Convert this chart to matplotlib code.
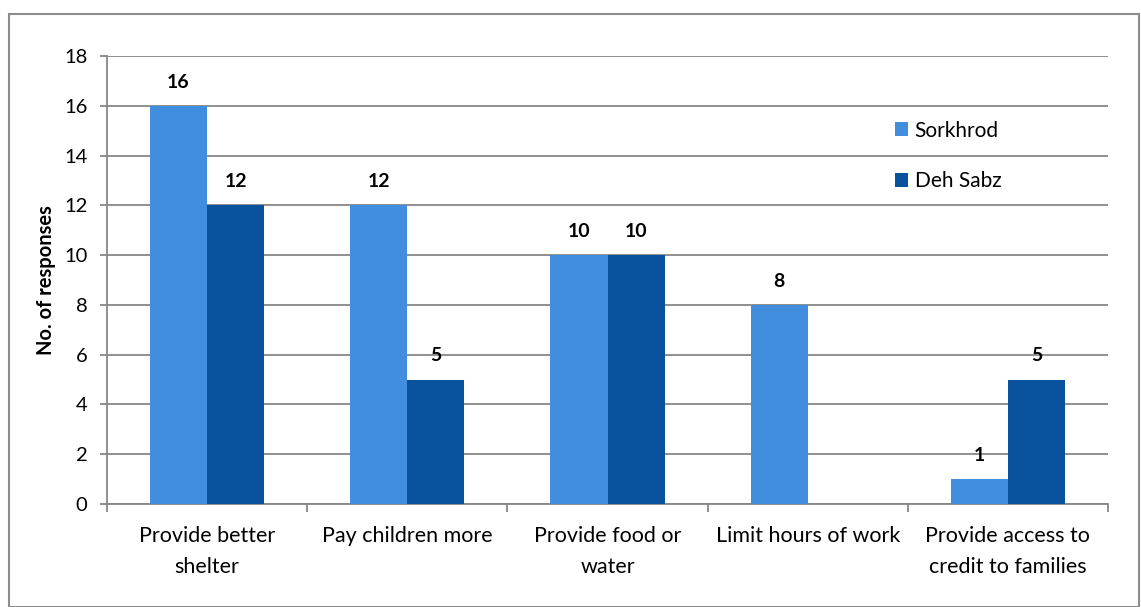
import matplotlib
matplotlib.use("Agg")
import matplotlib.pyplot as plt
from matplotlib.patches import Rectangle
import numpy as np

categories = ["Provide better\nshelter", "Pay children more", "Provide food or\nwater",
              "Limit hours of work", "Provide access to\ncredit to families"]
sorkhrod = [16, 12, 10, 8, 1]
deh_sabz = [12, 5, 10, 0, 5]
series_names = ["Sorkhrod", "Deh Sabz"]
yticks = [0, 2, 4, 6, 8, 10, 12, 14, 16, 18]

plt.rcParams['font.family'] = ['Lato', 'DejaVu Sans']
W, H = 1141, 607
fig = plt.figure(figsize=(W/100, H/100), dpi=100)
ax = fig.add_axes([107/W, 1 - 504/H, (1108-107)/W, (504-56)/H])

c1, c2 = "#418EDF", "#0B529E"
grid_c = "#878787"
x = np.arange(len(categories))
bw = 0.285
b1 = ax.bar(x - bw/2, sorkhrod, bw, color=c1, label=series_names[0], zorder=3)
b2 = ax.bar(x + bw/2, deh_sabz, bw, color=c2, label=series_names[1], zorder=3)

for bars, vals in ((b1, sorkhrod), (b2, deh_sabz)):
    for r, v in zip(bars, vals):
        if v == 0:
            continue
        ax.annotate(str(v), (r.get_x() + r.get_width()/2, v), xytext=(0, 17),
                    textcoords="offset points", ha="center", va="center",
                    fontsize=14, fontweight="bold")

ax.set_xlim(-0.5, len(categories) - 0.5)
ax.set_ylim(0, 18)
ax.set_yticks(yticks)
ax.set_yticklabels([str(t) for t in yticks], fontsize=14.5)
ax.yaxis.grid(True, color=grid_c, linewidth=1.3, zorder=0)
ax.set_axisbelow(True)
ax.set_xticks(x)
ax.set_xticklabels(categories, fontsize=15.5, linespacing=1.7)
ax.set_xticks(np.arange(-0.5, len(categories)), minor=True)
ax.tick_params(axis='x', which='major', length=0, pad=16)
ax.tick_params(axis='x', which='minor', length=6, color=grid_c, width=1.3)
ax.tick_params(axis='y', length=5, color=grid_c, width=1.3, pad=9)
for s in ("top", "right"):
    ax.spines[s].set_visible(False)
for s in ("left", "bottom"):
    ax.spines[s].set_color(grid_c)
    ax.spines[s].set_linewidth(1.3)
ax.set_ylabel("No. of responses", fontsize=14.5, fontweight="bold", labelpad=6)

leg = ax.legend(loc="upper left", bbox_to_anchor=(876/W, 1 - 102/H), bbox_transform=fig.transFigure,
                frameon=False, fontsize=15, handlelength=0.65, handleheight=0.65,
                handletextpad=0.3, labelspacing=1.45)

fig.patches.append(Rectangle((9/W, 0), (1139-9)/W, 1 - 14/H, transform=fig.transFigure,
                             fill=False, edgecolor="#8C8C8C", linewidth=1.5))
fig.savefig("out.png", dpi=100)
